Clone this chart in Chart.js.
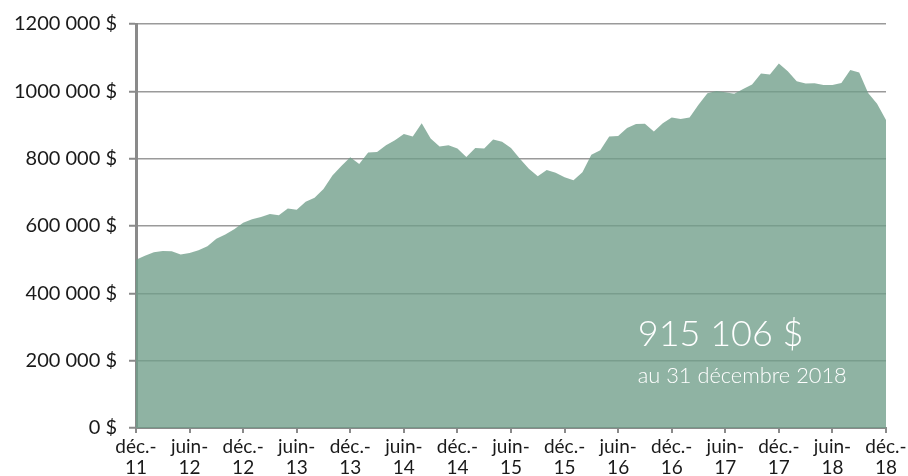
<!DOCTYPE html>
<html>
<head>
<meta charset="utf-8">
<script src="https://cdn.jsdelivr.net/npm/chart.js@4/dist/chart.umd.min.js"></script>
<style>
html,body{margin:0;padding:0;background:#fff;}
#wrap{width:908px;height:476px;position:relative;}
</style>
</head>
<body>
<div id="wrap"><canvas id="c" width="908" height="476"></canvas></div>
<script>
const monthNames = ['janv.','févr.','mars','avr.','mai','juin','juil.','août','sept.','oct.','nov.','déc.'];
const categories = [];
for (let y = 11; y <= 18; y++) {
  for (let m = 0; m < 12; m++) {
    if (y === 11 && m < 11) continue;
    categories.push(monthNames[m] + '-' + y);
  }
}
const values = [
  500000, 512000, 522000, 526000, 525000, 515000, 520000, 528000, 540000, 562000, 575000, 590000,
  610000, 620000, 627000, 636000, 632000, 652000, 648000, 672000, 684000, 710000, 750000, 778000,
  804000, 784000, 818000, 820000, 840000, 855000, 873000, 866000, 905000, 860000, 836000, 840000,
  830000, 805000, 832000, 830000, 857000, 850000, 832000, 800000, 770000, 748000, 766000, 758000,
  745000, 736000, 760000, 812000, 825000, 866000, 867000, 891000, 903000, 904000, 881000, 905000,
  922000, 918000, 922000, 960000, 994000, 1001000, 997000, 993000, 1007000, 1020000, 1053000, 1050000,
  1083000, 1060000, 1030000, 1023000, 1024000, 1019000, 1019000, 1025000, 1063000, 1056000, 995000, 963000,
  915106
];
const yTickLabels = ['0 $','200 000 $','400 000 $','600 000 $','800 000 $','1000 000 $','1200 000 $'];
const annotationValue = '915 106 $';
const annotationDate = 'au 31 décembre 2018';

const annotationPlugin = {
  id: 'annot',
  afterDatasetsDraw(chart) {
    const {ctx, chartArea} = chart;
    const w = chartArea.right - chartArea.left;
    const h = chartArea.bottom - chartArea.top;
    ctx.save();
    ctx.fillStyle = '#ffffff';
    ctx.textAlign = 'left';
    ctx.textBaseline = 'alphabetic';
    ctx.font = '300 36px Lato';
    ctx.fillText(annotationValue, chartArea.left + w * 0.669, chartArea.top + h * 0.796);
    ctx.font = '300 21.8px Lato';
    ctx.fillText(annotationDate, chartArea.left + w * 0.669, chartArea.top + h * 0.889);
    ctx.restore();
  }
};

new Chart(document.getElementById('c'), {
  type: 'line',
  data: {
    labels: categories,
    datasets: [{
      data: values,
      fill: 'origin',
      backgroundColor: 'rgba(112,158,137,0.78)',
      borderWidth: 0,
      borderColor: 'rgba(0,0,0,0)',
      pointRadius: 0,
      tension: 0
    }]
  },
  options: {
    responsive: false,
    animation: false,
    events: [],
    layout: { padding: { top: 22, right: 22, left: 0, bottom: 0 } },
    plugins: { legend: { display: false }, tooltip: { enabled: false } },
    scales: {
      x: {
        offset: false,
        afterFit(scale) { scale.height = 48; scale.paddingRight = 0; },
        border: { display: true, color: '#8a8a8a', width: 2 },
        grid: { drawOnChartArea: false, drawTicks: true, tickLength: 5, color: '#8a8a8a', lineWidth: 2 },
        ticks: {
          autoSkip: false,
          maxRotation: 0,
          minRotation: 0,
          padding: 4,
          color: '#1a1a1a',
          font: { family: 'Lato', size: 19, lineHeight: 1.08 },
          callback(v, i) {
            if (i % 6 !== 0) return null;
            const lbl = categories[i];
            const k = lbl.indexOf('-');
            return [lbl.slice(0, k + 1), lbl.slice(k + 1)];
          }
        }
      },
      y: {
        min: 0,
        max: 1200000,
        afterFit(scale) { scale.width = 136; },
        border: { display: true, color: '#8a8a8a', width: 3 },
        grid: { color: '#9a9a9a', lineWidth: 1.5, tickLength: 7, tickColor: '#8a8a8a', tickWidth: 2 },
        ticks: {
          stepSize: 200000,
          padding: 12,
          color: '#1a1a1a',
          font: { family: 'Lato', size: 20 },
          callback(v) { return yTickLabels[Math.round(v / 200000)]; }
        }
      }
    }
  },
  plugins: [annotationPlugin]
});
</script>
</body>
</html>
